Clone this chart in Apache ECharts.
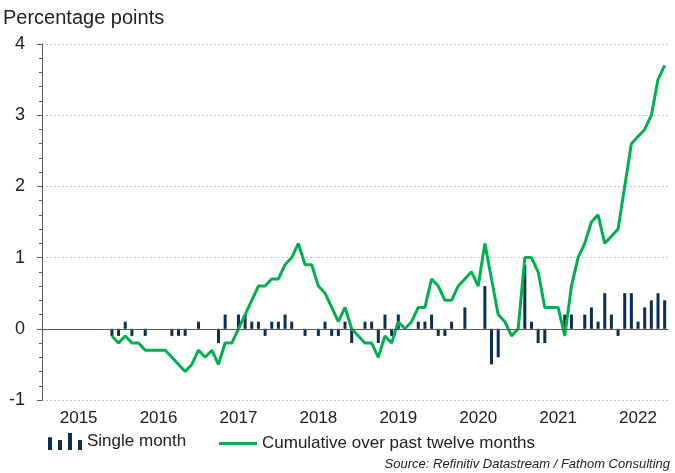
<!DOCTYPE html>
<html>
<head>
<meta charset="utf-8">
<script src="https://cdn.jsdelivr.net/npm/echarts@6/dist/echarts.min.js"></script>
<style>
  html, body { margin: 0; padding: 0; background: #fff; }
  .demo { width: 675px; height: 473px; }
</style>
</head>
<body>
<div class="demo"></div>
<script>
// monthly categories, Jan 2015 .. Oct 2022
const years = ['2015', '2016', '2017', '2018', '2019', '2020', '2021', '2022']
const monthNames = ['Jan','Feb','Mar','Apr','May','Jun','Jul','Aug','Sep','Oct','Nov','Dec']
const firstMonth = 10 // data starts Nov 2015

// single month contribution, Nov 2015 .. Oct 2022
const singleMonth = [
  -0.1, -0.1,
  0.1, -0.1, 0, -0.1, 0, 0, 0, -0.1, -0.1, -0.1, 0, 0.1,
  0, 0, -0.2, 0.2, 0, 0.2, 0.2, 0.1, 0.1, -0.1, 0.1, 0.1,
  0.2, 0.1, 0, -0.1, 0, -0.1, 0.1, -0.1, -0.1, 0.1, -0.2, 0,
  0.1, 0.1, -0.2, 0.2, -0.1, 0.2, 0, 0, 0.1, 0.1, 0.2, -0.1,
  -0.1, 0.1, 0, 0.3, 0, 0, 0.6, -0.5, -0.4, 0, 0, 0,
  0.9, 0.1, -0.2, -0.2, 0, 0, 0.2, 0.2, 0, 0.2, 0.3, 0.1,
  0.5, 0.2, -0.1, 0.5, 0.5, 0.1, 0.3, 0.4, 0.5, 0.4
]
// cumulative over past twelve months, Nov 2015 .. Oct 2022
const cumulative = [
  -0.1, -0.2,
  -0.1, -0.2, -0.2, -0.3, -0.3, -0.3, -0.3, -0.4, -0.5, -0.6, -0.5, -0.3,
  -0.4, -0.3, -0.5, -0.2, -0.2, 0.0, 0.2, 0.4, 0.6, 0.6, 0.7, 0.7,
  0.9, 1.0, 1.2, 0.9, 0.9, 0.6, 0.5, 0.3, 0.1, 0.3, 0.0, -0.1,
  -0.2, -0.2, -0.4, -0.1, -0.2, 0.1, 0.0, 0.1, 0.3, 0.3, 0.7, 0.6,
  0.4, 0.4, 0.6, 0.7, 0.8, 0.6, 1.2, 0.7, 0.2, 0.1, -0.1, 0.0,
  1.0, 1.0, 0.8, 0.3, 0.3, 0.3, -0.1, 0.6, 1.0, 1.2, 1.5, 1.6,
  1.2, 1.3, 1.4, 2.0, 2.6, 2.7, 2.8, 3.0, 3.5, 3.7
]

const months = []
years.forEach(y => monthNames.forEach(m => months.push(m + ' ' + y)))
months.length = 94
const pad = new Array(firstMonth).fill(null)

const chartinstance = echarts.init(document.querySelector('.demo'))
const font = 'Liberation Sans, Arial, sans-serif'
const option = {
  animation: false,
  textStyle: { fontFamily: font },
  grid: { left: 42, right: 7, top: 44, bottom: 73 },
  graphic: [
    { type: 'text', left: 3, top: 8, style: { text: 'Percentage points', font: '20px ' + font, fill: '#222' } },
    { type: 'text', right: 5, top: 458, style: { text: 'Source: Refinitiv Datastream / Fathom Consulting', font: 'italic 13px ' + font, fill: '#222' } }
  ],
  legend: [
    {
      data: [{ name: 'Single month', icon: 'path://M0,3h4v9h-4z M10,5h4v7h-4z M20,0h4v12h-4z M30,5h4v7h-4z' }],
      left: 48, top: 433, padding: 0, itemWidth: 34, itemHeight: 17,
      symbolKeepAspect: false,
      textStyle: { fontSize: 17, color: '#222', fontFamily: font }
    },
    {
      data: [{ name: 'Cumulative over past twelve months', icon: 'rect' }],
      left: 219, top: 435, padding: 0, itemWidth: 38, itemHeight: 3,
      textStyle: { fontSize: 17, color: '#222', fontFamily: font }
    }
  ],
  xAxis: {
    type: 'category',
    data: months,
    axisLine: { lineStyle: { color: '#595959' } },
    axisTick: { interval: i => i % 3 === 0, length: 4, lineStyle: { color: '#595959' } },
    axisLabel: {
      interval: i => i % 12 === 5,
      formatter: v => v.slice(-4),
      fontSize: 17, color: '#222', margin: 10
    },
    splitLine: { show: false }
  },
  yAxis: {
    type: 'value',
    min: -1, max: 4, interval: 1,
    axisLine: { show: true, lineStyle: { color: '#595959' } },
    axisTick: { show: true, length: 5, lineStyle: { color: '#595959' } },
    minorTick: { show: true, splitNumber: 5, length: 3, lineStyle: { color: '#595959' } },
    axisLabel: { fontSize: 18, color: '#222', margin: 17 },
    splitLine: { lineStyle: { color: '#c4c4c4', type: [2, 2] } }
  },
  series: [
    {
      name: 'Single month',
      type: 'bar',
      data: pad.concat(singleMonth),
      barWidth: 3,
      itemStyle: { color: '#0b2f50' },
      markLine: {
        silent: true, symbol: 'none', label: { show: false },
        lineStyle: { color: '#595959', type: 'solid', width: 1.2 },
        data: [{ yAxis: 0 }]
      }
    },
    {
      name: 'Cumulative over past twelve months',
      type: 'line',
      data: pad.concat(cumulative),
      showSymbol: false,
      symbol: 'none',
      lineStyle: { color: '#00b04f', width: 3 },
      itemStyle: { color: '#00b04f' }
    }
  ]
}
option && chartinstance.setOption(option)
window.addEventListener('resize', () => {
  chartinstance.resize()
})
</script>
</body>
</html>
